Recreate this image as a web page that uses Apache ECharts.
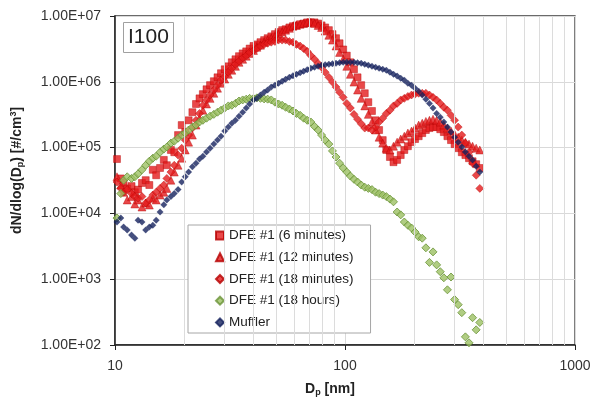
<!DOCTYPE html>
<html>
<head>
<meta charset="utf-8">
<script src="https://cdn.jsdelivr.net/npm/echarts@6/dist/echarts.min.js"></script>
<style>
html,body{margin:0;padding:0;background:#fff;}
#c{width:595px;height:403px;}
</style>
</head>
<body>
<div id="c"></div>
<script>
// Particle diameters (nm), SMPS channels
const diam = [10.2,10.6,10.9,11.3,11.8,12.2,12.6,13.1,13.6,14.1,
  14.6,15.1,15.7,16.3,16.8,17.5,18.1,18.8,19.5,20.2,
  20.9,21.7,22.5,23.3,24.1,25.0,25.9,26.9,27.9,28.9,
  30.0,31.1,32.2,33.4,34.6,35.9,37.2,38.5,40.0,41.4,
  42.9,44.5,46.1,47.8,49.6,51.4,53.3,55.2,57.3,59.4,
  61.5,63.8,66.1,68.5,71.0,73.7,76.4,79.1,82.0,85.1,
  88.2,91.4,94.7,98.2,101.8,105.5,109.4,113.4,117.6,121.9,
  126.3,131.0,135.8,140.7,145.9,151.2,156.8,162.5,168.5,174.7,
  181.1,187.7,194.6,201.7,209.1,216.7,224.7,232.9,241.4,250.3,
  259.5,269.0,278.8,289.0,299.6,310.6,322.0,333.8,346.0,358.7,
  371.8,385.5];

const dfe6min = [6.7e4,3.4e4,2.9e4,2.4e4,2.6e4,2.1e4,2.3e4,2.9e4,3.2e4,2.7e4,
  4.6e4,3.8e4,4.9e4,6.5e4,5.4e4,9.2e4,8.5e4,1.55e5,2.2e5,1.72e5,
  2.6e5,3.45e5,4.6e5,5.6e5,6.5e5,7.7e5,8.9e5,1.02e6,1.17e6,1.35e6,
  1.55e6,1.72e6,1.98e6,2.2e6,2.45e6,2.7e6,2.9e6,3.2e6,3.5e6,3.7e6,
  4.0e6,4.3e6,4.6e6,4.9e6,5.3e6,5.7e6,6.1e6,6.3e6,6.7e6,7.0e6,
  7.2e6,7.5e6,7.7e6,8.0e6,8.0e6,8.0e6,7.7e6,7.2e6,6.7e6,6.1e6,
  5.3e6,4.6e6,3.85e6,3.1e6,2.5e6,1.98e6,1.55e6,1.17e6,8.9e5,6.7e5,
  4.9e5,3.6e5,2.6e5,1.85e5,1.3e5,9.2e4,7.2e4,6.0e4,6.5e4,7.7e4,
  9.2e4,1.05e5,1.21e5,1.35e5,1.49e5,1.66e5,1.85e5,1.98e5,2.05e5,2.05e5,
  1.9e5,1.72e5,1.49e5,1.3e5,1.13e5,9.8e4,8.5e4,7.7e4,6.9e4,6.2e4,
  5.6e4,4.9e4];

const dfe12min = [3.6e4,2.7e4,2.1e4,1.6e4,1.8e4,1.39e4,1.6e4,1.25e4,1.44e4,1.34e4,
  1.7e4,1.6e4,1.9e4,2.1e4,2.4e4,3.2e4,4.25e4,5.4e4,6.9e4,9.2e4,
  1.21e5,1.55e5,2.2e5,2.8e5,3.7e5,4.6e5,5.6e5,6.7e5,8.0e5,9.5e5,
  1.1e6,1.3e6,1.5e6,1.72e6,1.98e6,2.2e6,2.45e6,2.7e6,3.0e6,3.35e6,
  3.6e6,4.0e6,4.3e6,4.6e6,4.9e6,5.3e6,5.7e6,6.1e6,6.5e6,7.0e6,
  7.2e6,7.5e6,7.7e6,8.0e6,8.0e6,7.7e6,7.2e6,6.7e6,5.9e6,5.1e6,
  4.3e6,3.5e6,2.8e6,2.2e6,1.72e6,1.3e6,9.9e5,7.5e5,5.6e5,4.3e5,
  3.2e5,2.45e5,1.85e5,1.44e5,1.17e5,9.8e4,9.2e4,1.05e5,1.21e5,1.35e5,
  1.49e5,1.66e5,1.78e5,1.98e5,2.2e5,2.35e5,2.5e5,2.6e5,2.7e5,2.6e5,
  2.45e5,2.2e5,1.98e5,1.78e5,1.6e5,1.44e5,1.3e5,1.21e5,1.13e5,1.05e5,
  9.8e4,9.2e4];

const dfe18min = [3.0e4,2.4e4,2.1e4,2.3e4,2.0e4,1.8e4,1.7e4,1.8e4,1.44e4,1.6e4,
  1.9e4,2.1e4,2.4e4,2.7e4,3.4e4,4.25e4,5.4e4,7.7e4,9.8e4,1.3e5,
  1.55e5,1.98e5,2.6e5,3.3e5,4.4e5,5.3e5,6.3e5,7.5e5,8.9e5,1.06e6,
  1.2e6,1.4e6,1.6e6,1.85e6,2.05e6,2.3e6,2.5e6,2.8e6,3.0e6,3.2e6,
  3.5e6,3.7e6,3.85e6,4.0e6,4.1e6,4.3e6,4.3e6,4.3e6,4.1e6,4.0e6,
  3.7e6,3.5e6,3.2e6,2.9e6,2.5e6,2.2e6,1.9e6,1.67e6,1.4e6,1.17e6,
  9.9e5,8.3e5,6.95e5,5.8e5,4.7e5,4.0e5,3.2e5,2.7e5,2.3e5,1.98e5,
  1.98e5,1.85e5,2.05e5,2.45e5,2.8e5,3.3e5,3.7e5,4.3e5,4.7e5,5.3e5,
  5.6e5,6.0e5,6.3e5,6.5e5,6.7e5,6.7e5,6.7e5,6.3e5,5.8e5,5.3e5,
  4.7e5,4.1e5,3.7e5,3.1e5,2.6e5,2.05e5,1.55e5,1.17e5,8.5e4,5.8e4,
  3.8e4,2.4e4];

const dfe18h = [8.5e3,2.0e4,3.2e4,3.6e4,3.4e4,3.6e4,4.0e4,4.6e4,5.4e4,6.2e4,
  6.9e4,7.4e4,8.5e4,9.5e4,1.02e5,1.17e5,1.25e5,1.39e5,1.55e5,1.66e5,
  1.85e5,2.05e5,2.2e5,2.45e5,2.6e5,2.8e5,3.0e5,3.2e5,3.45e5,3.7e5,
  4.0e5,4.3e5,4.4e5,4.7e5,5.1e5,5.3e5,5.45e5,5.6e5,5.6e5,5.7e5,
  5.6e5,5.5e5,5.45e5,5.3e5,4.9e5,4.6e5,4.4e5,4.1e5,3.85e5,3.6e5,
  3.3e5,3.1e5,2.8e5,2.6e5,2.45e5,2.1e5,1.85e5,1.55e5,1.3e5,1.13e5,
  8.9e4,7.2e4,5.8e4,4.9e4,4.25e4,3.7e4,3.3e4,3.0e4,2.7e4,2.5e4,
  2.4e4,2.3e4,2.1e4,2.0e4,1.9e4,1.8e4,1.65e4,1.5e4,1.05e4,9.5e3,
  7.4e3,6.6e3,6.0e3,5.2e3,4.4e3,4.2e3,3.0e3,1.8e3,2.6e3,1.65e3,
  1.3e3,1.05e3,690,1080,490,410,310,133,108,260,
  170,220];

const muffler = [7.4e3,8.5e3,6.2e3,5.6e3,4.7e3,4.2e3,7.9e3,7.4e3,5.6e3,6.2e3,
  6.6e3,7.9e3,1.05e4,1.35e4,1.6e4,1.8e4,2.0e4,2.3e4,3.0e4,3.6e4,
  4.25e4,5.1e4,5.8e4,6.7e4,7.4e4,8.6e4,9.8e4,1.13e5,1.3e5,1.49e5,
  1.78e5,2.05e5,2.35e5,2.6e5,3.0e5,3.45e5,4.0e5,4.6e5,5.3e5,5.6e5,
  6.3e5,6.95e5,7.5e5,8.3e5,8.9e5,9.5e5,1.02e6,1.09e6,1.17e6,1.24e6,
  1.30e6,1.37e6,1.45e6,1.53e6,1.61e6,1.67e6,1.73e6,1.79e6,1.82e6,1.85e6,
  1.88e6,1.91e6,1.95e6,1.98e6,1.98e6,1.98e6,1.98e6,1.95e6,1.91e6,1.85e6,
  1.79e6,1.73e6,1.67e6,1.61e6,1.55e6,1.50e6,1.40e6,1.30e6,1.22e6,1.13e6,
  1.06e6,9.5e5,8.9e5,8.0e5,7.2e5,6.3e5,5.45e5,4.7e5,4.0e5,3.3e5,
  2.9e5,2.45e5,2.05e5,1.72e5,1.44e5,1.21e5,1.02e5,8.6e4,7.4e4,6.5e4,
  5.2e4,4.25e4];

const seriesNames = ['DFE #1 (6 minutes)','DFE #1 (12 minutes)','DFE #1 (18 minutes)','DFE #1 (18 hours)','Muffler'];
const minorGridX = [20,30,40,50,60,70,80,90,200,300,400,500,600,700,800,900];

const FONT = "'Liberation Sans', Arial, sans-serif";
const pair = arr => diam.map((d, i) => [d, arr[i]]);

const chart = echarts.init(document.getElementById('c'), null, {renderer: 'canvas'});
chart.setOption({
  animation: false,
  backgroundColor: '#fff',
  textStyle: {fontFamily: FONT},
  title: {
    text: 'I100', left: 123, top: 22,
    padding: [5, 5, 5, 5],
    borderColor: '#a0a0a0', borderWidth: 1,
    textStyle: {fontSize: 21, fontWeight: 'normal', color: '#222', fontFamily: FONT, lineHeight: 21}
  },
  grid: {left: 115, right: 20, top: 16, bottom: 58, show: true, borderColor: '#3a3a3a', borderWidth: 1.3, backgroundColor: 'transparent'},
  legend: {
    data: seriesNames,
    orient: 'vertical', left: 188, top: 225,
    padding: [3.6, 17, 3.6, 27],
    itemWidth: 8, itemHeight: 8, itemGap: 7.7,
    backgroundColor: '#fff', borderColor: '#a6a6a6', borderWidth: 1,
    textStyle: {fontSize: 13.5, color: '#222', fontFamily: FONT, lineHeight: 14}
  },
  xAxis: {
    type: 'log', logBase: 10, min: 10, max: 1000,
    axisLine: {show: true, lineStyle: {color: '#222', width: 1.5}},
    axisTick: {show: true, length: 5, lineStyle: {color: '#222'}},
    axisLabel: {fontSize: 14, color: '#333', margin: 14, formatter: v => String(Math.round(v))},
    splitLine: {show: true, lineStyle: {color: '#d9d9d9', width: 1}},
    name: '{b|D}{s|p}{b| [nm]}', nameLocation: 'middle', nameGap: 36,
    nameTextStyle: {padding: [0, 30, 0, 0], rich: {
      b: {fontSize: 14, fontWeight: 'bold', color: '#222', fontFamily: FONT, lineHeight: 16},
      s: {fontSize: 9, fontWeight: 'bold', color: '#222', fontFamily: FONT, lineHeight: 9, verticalAlign: 'bottom'}
    }}
  },
  yAxis: {
    type: 'log', logBase: 10, min: 100, max: 1e7,
    axisLine: {show: true, lineStyle: {color: '#222', width: 1.5}},
    axisTick: {show: true, length: 5, lineStyle: {color: '#222'}},
    axisLabel: {fontSize: 14, color: '#333', margin: 14, formatter: v => {
      const e = Math.round(Math.log10(v));
      return '1.00E+' + (e < 10 ? '0' : '') + e;
    }},
    splitLine: {show: true, lineStyle: {color: '#d9d9d9', width: 1}},
    name: '{b|dN/dlog(D}{s|p}{b|) [#/cm}{u|3}{b|]}', nameLocation: 'middle', nameGap: 90,
    nameTextStyle: {padding: [0, 0, 0, 20], rich: {
      b: {fontSize: 14, fontWeight: 'bold', color: '#222', fontFamily: FONT, lineHeight: 16},
      s: {fontSize: 9, fontWeight: 'bold', color: '#222', fontFamily: FONT, lineHeight: 9, verticalAlign: 'bottom'},
      u: {fontSize: 9, fontWeight: 'bold', color: '#222', fontFamily: FONT, lineHeight: 9, verticalAlign: 'top'}
    }}
  },
  series: [
    {
      type: 'line', data: [], silent: true, z: 0,
      markLine: {
        silent: true, symbol: 'none', label: {show: false}, animation: false,
        lineStyle: {color: '#dcdcdc', width: 1, type: 'solid'},
        emphasis: {disabled: true},
        data: minorGridX.map(v => ({xAxis: v}))
      }
    },
    {name: seriesNames[0], type: 'scatter', data: pair(dfe6min), symbol: 'rect', symbolSize: 7,
      itemStyle: {color: '#e31a1c', borderColor: '#b50000', borderWidth: 0.5}},
    {name: seriesNames[1], type: 'scatter', data: pair(dfe12min), symbol: 'triangle', symbolSize: 8,
      itemStyle: {color: '#e31a1c', borderColor: '#b50000', borderWidth: 0.5}},
    {name: seriesNames[2], type: 'scatter', data: pair(dfe18min), symbol: 'diamond', symbolSize: 8,
      itemStyle: {color: '#e31a1c', borderColor: '#b50000', borderWidth: 0.5}},
    {name: seriesNames[3], type: 'scatter', data: pair(dfe18h), symbol: 'diamond', symbolSize: 8,
      itemStyle: {color: '#9cc063', borderColor: '#6a9338', borderWidth: 1}},
    {name: seriesNames[4], type: 'scatter', data: pair(muffler), symbol: 'diamond', symbolSize: 6.5,
      itemStyle: {color: '#15225e', borderColor: '#15225e', borderWidth: 0.3}}
  ]
});
</script>
</body>
</html>
